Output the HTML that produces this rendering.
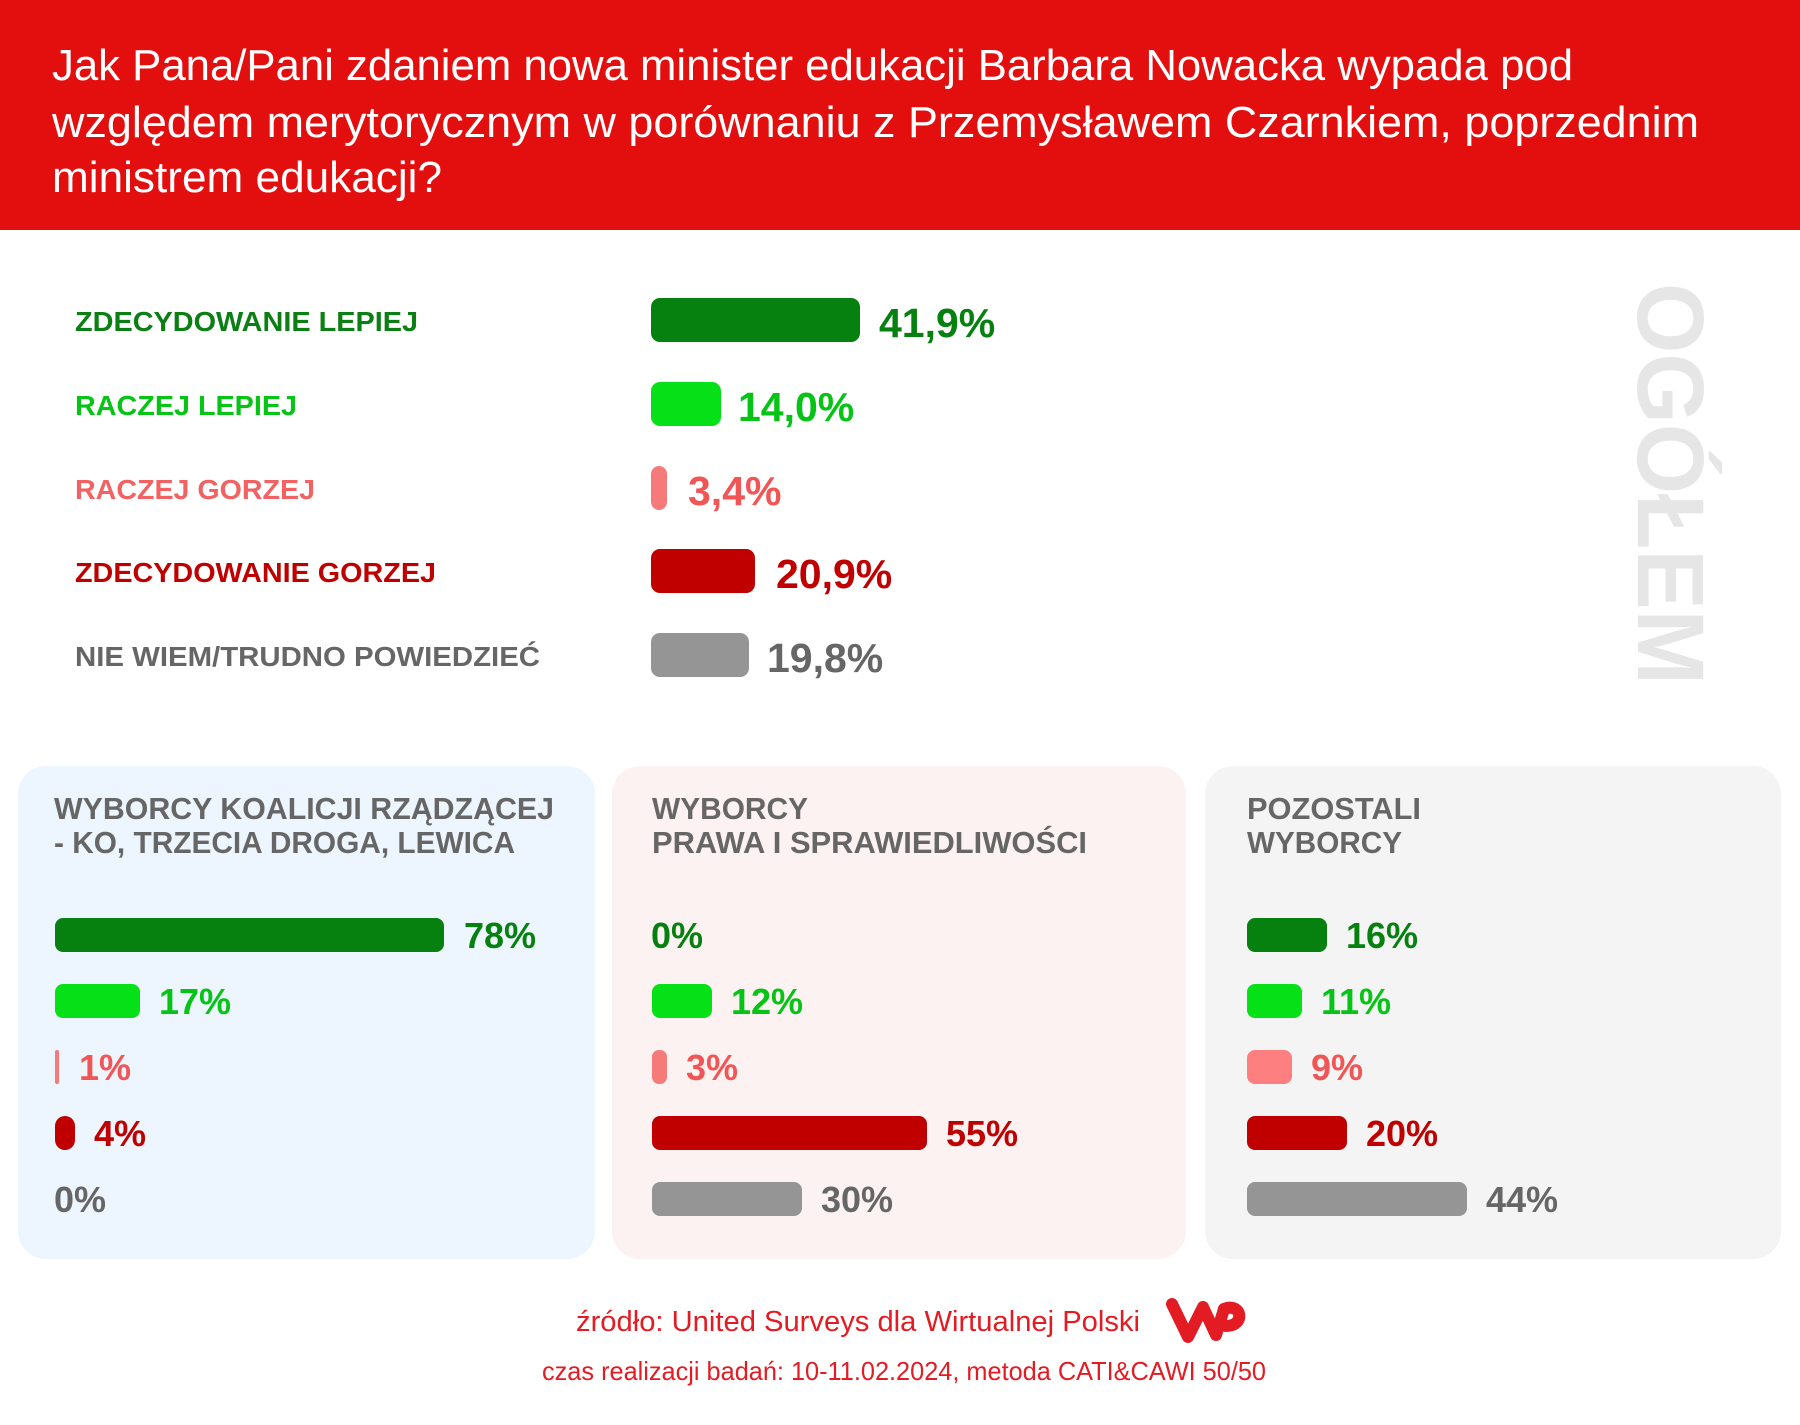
<!DOCTYPE html>
<html><head><meta charset="utf-8"><style>
html,body{margin:0;padding:0;background:#fff}
svg{display:block}
text{font-family:"Liberation Sans",sans-serif}
.b{font-weight:bold}
</style></head><body>
<svg width="1800" height="1425" viewBox="0 0 1800 1425" xmlns="http://www.w3.org/2000/svg">
<rect x="0" y="0" width="1800" height="230" fill="#e30f0f"/>
<g fill="#fff" font-size="44">
<text x="52" y="80" textLength="1521" lengthAdjust="spacingAndGlyphs">Jak Pana/Pani zdaniem nowa minister edukacji Barbara Nowacka wypada pod</text>
<text x="52" y="137" textLength="1647" lengthAdjust="spacingAndGlyphs">względem merytorycznym w porównaniu z Przemysławem Czarnkiem, poprzednim</text>
<text x="52" y="192" textLength="390" lengthAdjust="spacingAndGlyphs">ministrem edukacji?</text>
</g>

<text x="1638" y="283" transform="rotate(90 1638 283)" class="b" font-size="95" fill="#e6e6e6" textLength="402" lengthAdjust="spacingAndGlyphs">OGÓŁEM</text>

<g class="b" font-size="28">
<text x="75" y="331" fill="#0b7f13" textLength="343" lengthAdjust="spacingAndGlyphs">ZDECYDOWANIE LEPIEJ</text>
<text x="75" y="415" fill="#06c416" textLength="222" lengthAdjust="spacingAndGlyphs">RACZEJ LEPIEJ</text>
<text x="75" y="499" fill="#f26262" textLength="240" lengthAdjust="spacingAndGlyphs">RACZEJ GORZEJ</text>
<text x="75" y="582" fill="#c00000" textLength="361" lengthAdjust="spacingAndGlyphs">ZDECYDOWANIE GORZEJ</text>
<text x="75" y="666" fill="#666" textLength="465" lengthAdjust="spacingAndGlyphs">NIE WIEM/TRUDNO POWIEDZIEĆ</text>
</g>
<rect x="651" y="298" width="209" height="44" rx="9" fill="#06800f"/>
<rect x="651" y="382" width="70" height="44" rx="9" fill="#06e016"/>
<rect x="651" y="466" width="16" height="44" rx="8" fill="#f77a7a"/>
<rect x="651" y="549" width="104" height="44" rx="9" fill="#c00000"/>
<rect x="651" y="633" width="98" height="44" rx="9" fill="#959595"/>
<g class="b" font-size="41">
<text x="879" y="337" fill="#06800f">41,9%</text>
<text x="738" y="421" fill="#06c416">14,0%</text>
<text x="688" y="505" fill="#f25555">3,4%</text>
<text x="776" y="588" fill="#c00000">20,9%</text>
<text x="767" y="672" fill="#666">19,8%</text>
</g>

<rect x="18" y="766" width="577" height="493" rx="28" fill="#edf5fe"/>
<rect x="612" y="766" width="574" height="493" rx="28" fill="#fdf2f2"/>
<rect x="1205" y="766" width="576" height="493" rx="28" fill="#f4f4f4"/>
<g class="b" font-size="31" fill="#666">
<text x="54" y="819" textLength="500" lengthAdjust="spacingAndGlyphs">WYBORCY KOALICJI RZĄDZĄCEJ</text>
<text x="54" y="853" textLength="461" lengthAdjust="spacingAndGlyphs">- KO, TRZECIA DROGA, LEWICA</text>
<text x="652" y="819" textLength="156" lengthAdjust="spacingAndGlyphs">WYBORCY</text>
<text x="652" y="853" textLength="435" lengthAdjust="spacingAndGlyphs">PRAWA I SPRAWIEDLIWOŚCI</text>
<text x="1247" y="819" textLength="174" lengthAdjust="spacingAndGlyphs">POZOSTALI</text>
<text x="1247" y="853" textLength="155" lengthAdjust="spacingAndGlyphs">WYBORCY</text>
</g>

<rect x="55" y="918" width="389" height="34" rx="8" fill="#06800f"/>
<rect x="55" y="984" width="85" height="34" rx="8" fill="#06e016"/>
<rect x="55" y="1050" width="4" height="34" rx="2" fill="#f77a7a"/>
<rect x="55" y="1116" width="20" height="34" rx="10" fill="#c00000"/>
<g class="b" font-size="36">
<text x="464" y="948" fill="#06800f">78%</text>
<text x="159" y="1014" fill="#06c416">17%</text>
<text x="79" y="1080" fill="#f25555">1%</text>
<text x="94" y="1146" fill="#c00000">4%</text>
<text x="54" y="1212" fill="#666">0%</text>
</g>
<rect x="652" y="984" width="60" height="34" rx="8" fill="#06e016"/>
<rect x="652" y="1050" width="15" height="34" rx="7" fill="#f77a7a"/>
<rect x="652" y="1116" width="275" height="34" rx="8" fill="#c00000"/>
<rect x="652" y="1182" width="150" height="34" rx="8" fill="#959595"/>
<g class="b" font-size="36">
<text x="651" y="948" fill="#06800f">0%</text>
<text x="731" y="1014" fill="#06c416">12%</text>
<text x="686" y="1080" fill="#f25555">3%</text>
<text x="946" y="1146" fill="#c00000">55%</text>
<text x="821" y="1212" fill="#666">30%</text>
</g>
<rect x="1247" y="918" width="80" height="34" rx="8" fill="#06800f"/>
<rect x="1247" y="984" width="55" height="34" rx="8" fill="#06e016"/>
<rect x="1247" y="1050" width="45" height="34" rx="8" fill="#fd7f7f"/>
<rect x="1247" y="1116" width="100" height="34" rx="8" fill="#c00000"/>
<rect x="1247" y="1182" width="220" height="34" rx="8" fill="#959595"/>
<g class="b" font-size="36">
<text x="1346" y="948" fill="#06800f">16%</text>
<text x="1321" y="1014" fill="#06c416">11%</text>
<text x="1311" y="1080" fill="#f25555">9%</text>
<text x="1366" y="1146" fill="#c00000">20%</text>
<text x="1486" y="1212" fill="#666">44%</text>
</g>

<g fill="#e31b23">
<text x="576" y="1331" font-size="29" textLength="564" lengthAdjust="spacingAndGlyphs">źródło: United Surveys dla Wirtualnej Polski</text>
<text x="542" y="1380" font-size="26" textLength="724" lengthAdjust="spacingAndGlyphs">czas realizacji badań: 10-11.02.2024, metoda CATI&amp;CAWI 50/50</text>
</g>
<g fill="none" stroke="#e31b23" stroke-width="12" stroke-linecap="round" stroke-linejoin="round">
<path d="M1172 1304 L1188 1337 L1203 1307 L1216 1335 L1224 1309"/>
<path d="M1224 1309 C1242 1302 1246 1326 1226 1326"/>
</g>
</svg>
</body></html>
